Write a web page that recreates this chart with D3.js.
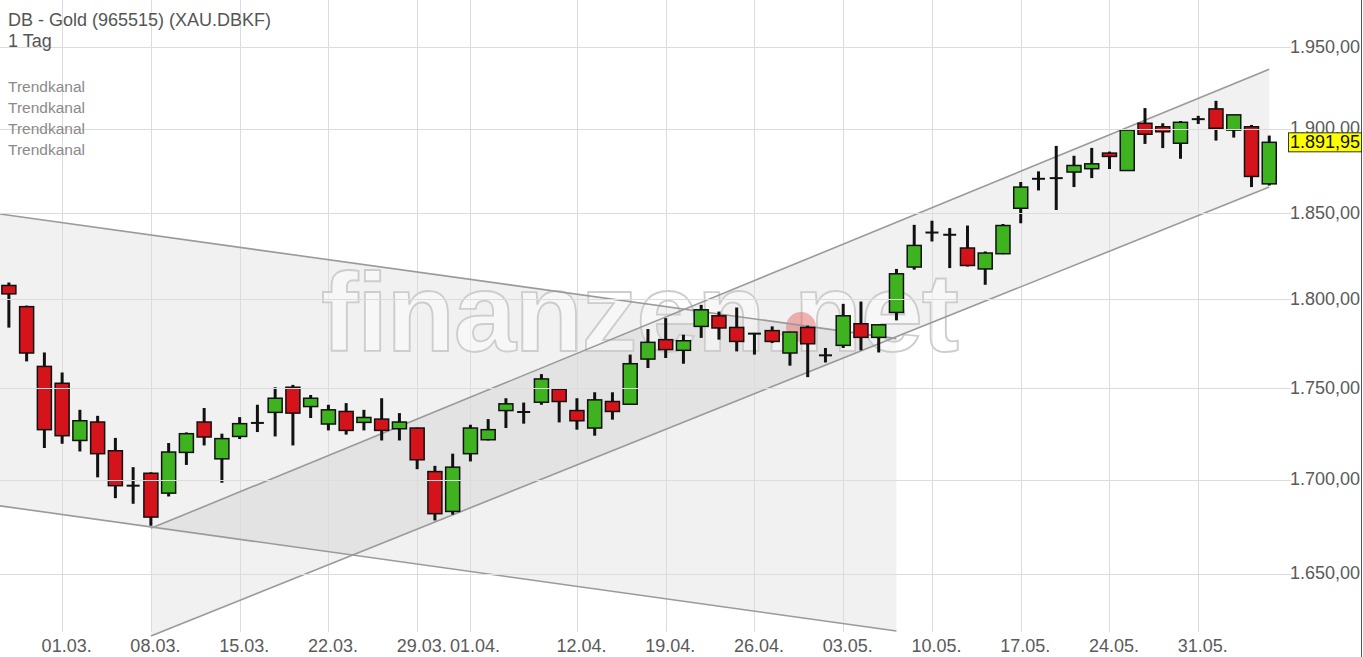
<!DOCTYPE html>
<html><head><meta charset="utf-8">
<script src="https://cdn.jsdelivr.net/npm/d3@7"></script>
<style>body{margin:0;background:#fff;} svg{display:block;font-family:"Liberation Sans",Arial,sans-serif;}</style>
</head><body><svg id="c" width="1363" height="657"></svg>
<script>
const dates = ["24.02.","25.02.","26.02.","01.03.","02.03.","03.03.","04.03.","05.03.","08.03.","09.03.","10.03.","11.03.","12.03.","15.03.","16.03.","17.03.","18.03.","19.03.","22.03.","23.03.","24.03.","25.03.","26.03.","29.03.","30.03.","31.03.","01.04.","05.04.","06.04.","07.04.","08.04.","09.04.","12.04.","13.04.","14.04.","15.04.","16.04.","19.04.","20.04.","21.04.","22.04.","23.04.","26.04.","27.04.","28.04.","29.04.","30.04.","03.05.","04.05.","05.05.","06.05.","07.05.","10.05.","11.05.","12.05.","13.05.","14.05.","17.05.","18.05.","19.05.","20.05.","21.05.","24.05.","25.05.","26.05.","27.05.","28.05.","31.05.","01.06.","02.06.","03.06.","04.06."];
const open  = [1808.0,1795.9,1762.2,1752.8,1721.3,1731.4,1715.7,1696.8,1703.5,1692.8,1714.8,1731.4,1711.3,1723.5,1730.9,1736.7,1750.6,1739.9,1730.3,1737.2,1731.2,1733.0,1727.7,1728.1,1704.4,1683.0,1714.1,1721.7,1737.7,1736.9,1742.3,1749.5,1737.7,1728.1,1742.7,1741.2,1766.3,1777.2,1771.2,1784.7,1790.7,1784.1,1780.6,1782.3,1769.7,1784.1,1768.4,1774.0,1786.2,1778.5,1792.6,1818.6,1838.6,1837.3,1829.6,1817.5,1826.3,1852.8,1870.2,1870.6,1874.2,1876.2,1885.5,1875.1,1903.4,1901.3,1891.4,1905.9,1912.1,1899.3,1901.3,1867.2];
const high  = [1809.7,1796.5,1770.0,1758.8,1738.1,1734.8,1722.7,1706.8,1704.0,1719.9,1725.7,1739.1,1725.0,1734.1,1740.9,1750.6,1751.9,1746.3,1740.9,1741.8,1738.1,1744.5,1736.3,1728.3,1707.5,1714.1,1729.9,1733.0,1744.5,1742.1,1757.9,1749.6,1744.5,1747.8,1747.8,1768.8,1783.2,1789.4,1780.0,1796.9,1793.1,1795.4,1781.0,1784.7,1781.6,1785.1,1772.5,1797.5,1798.8,1785.7,1817.5,1843.1,1845.5,1841.2,1842.7,1827.6,1843.6,1868.3,1874.6,1889.8,1883.9,1888.6,1886.4,1899.5,1912.6,1903.4,1904.8,1907.9,1917.0,1908.6,1902.4,1896.0];
const low   = [1784.0,1765.0,1717.2,1719.5,1715.3,1701.3,1690.1,1687.1,1675.4,1691.0,1708.0,1718.6,1698.4,1722.1,1725.9,1723.5,1718.6,1733.6,1726.8,1724.5,1726.8,1721.3,1721.3,1705.7,1678.2,1681.3,1709.9,1721.3,1728.1,1730.5,1740.9,1731.2,1727.2,1723.9,1732.7,1741.0,1761.3,1766.9,1763.7,1778.2,1777.2,1770.6,1768.8,1775.3,1762.6,1756.2,1764.4,1772.5,1771.2,1770.0,1788.1,1817.1,1833.4,1818.0,1818.9,1808.4,1826.0,1844.0,1863.3,1851.8,1865.3,1870.6,1876.0,1875.0,1891.0,1888.5,1882.1,1903.0,1893.0,1894.8,1865.3,1866.2];
const close = [1803.2,1769.7,1727.2,1723.9,1732.1,1714.1,1696.8,1696.8,1680.0,1715.0,1725.0,1723.2,1722.3,1730.5,1730.9,1744.5,1736.3,1744.5,1738.1,1726.8,1733.9,1726.8,1731.4,1710.8,1681.8,1706.8,1728.1,1727.2,1741.4,1736.9,1755.2,1742.7,1732.1,1743.6,1737.2,1763.7,1775.7,1771.6,1776.6,1794.1,1783.8,1776.2,1780.6,1776.2,1781.5,1774.9,1768.4,1790.7,1778.5,1785.6,1814.7,1831.1,1838.6,1837.3,1819.5,1826.7,1842.7,1865.3,1870.2,1870.6,1878.1,1879.1,1883.5,1899.3,1896.8,1898.3,1904.0,1905.9,1900.4,1908.5,1871.6,1891.95];
const xTickLabels = ["01.03.","08.03.","15.03.","22.03.","29.03.","01.04.","12.04.","19.04.","26.04.","03.05.","10.05.","17.05.","24.05.","31.05."];
const yTicks = [1650,1700,1750,1800,1850,1900,1950];
const lastPrice = 1891.95;
const titleLines = ["DB - Gold (965515) (XAU.DBKF)","1 Tag"];
const legendLabels = ["Trendkanal","Trendkanal","Trendkanal","Trendkanal"];
// trend channels: [index position, upper price, lower price]
const descIdx = [-0.5, 50], descUpper = [1849.4, 1777.8], descLower = [1686.0, 1620.4];
const ascIdx  = [8, 71],    ascUpper  = [1674.0, 1936.3], ascLower  = [1617.8, 1865.3];

const W = 1363, H = 657, plotR = 1287;
const svg = d3.select("#c");
const x = d3.scaleLinear().domain([-0.5, 72.0]).range([0, plotR]);
const y = d3.scaleLog().domain([1650, 1950]).range([573.9, 47]);
const loc = d3.formatLocale({decimal: ",", thousands: ".", grouping: [3], currency: ["", ""]});
const fmt = loc.format(",.2f");

svg.append("defs").append("clipPath").attr("id","clip").append("rect").attr("x",0).attr("y",0).attr("width",plotR).attr("height",H);
const plot = svg.append("g").attr("clip-path","url(#clip)");

// channel shading
function area(idx, up, lo) {
  return d3.area().x(d => x(d[0])).y0(d => y(d[1])).y1(d => y(d[2]))(idx.map((v,i)=>[v, lo[i], up[i]]));
}
plot.append("path").attr("d", area(descIdx, descUpper, descLower)).attr("fill","rgba(0,0,0,0.055)");
plot.append("path").attr("d", area(ascIdx, ascUpper, ascLower)).attr("fill","rgba(0,0,0,0.055)");

// grid
const tickIdx = xTickLabels.map(t => dates.indexOf(t));
plot.selectAll("line.vg").data(tickIdx).join("line")
  .attr("x1", d => Math.round(x(d))+0.5).attr("x2", d => Math.round(x(d))+0.5)
  .attr("y1", 0).attr("y2", 632).attr("stroke","#dcdcdc").attr("stroke-width",1);
svg.selectAll("line.hg").data(yTicks).join("line")
  .attr("x1", 0).attr("x2", 1291)
  .attr("y1", d => Math.round(y(d))+0.5).attr("y2", d => Math.round(y(d))+0.5)
  .attr("stroke","#dcdcdc").attr("stroke-width",1);

// watermark
plot.append("text").attr("x", 321).attr("y", 351).attr("textLength", 638).attr("lengthAdjust","spacing")
  .attr("font-size", 112).attr("font-weight","bold").attr("fill","rgba(255,255,255,0.45)").attr("stroke","#cdcdcd").attr("stroke-width",1.8)
  .text("finanzen.net");
plot.append("circle").attr("cx", 801).attr("cy", 327).attr("r", 15).attr("fill","rgba(232,90,90,0.45)");

// channel lines
const ln = d3.line().x(d => x(d[0])).y(d => y(d[1]));
[[descIdx, descUpper],[descIdx, descLower],[ascIdx, ascUpper],[ascIdx, ascLower]].forEach(([ix, p]) => {
  plot.append("path").attr("d", ln(ix.map((v,i)=>[v,p[i]]))).attr("fill","none").attr("stroke","#9a9a9a").attr("stroke-width",1.6);
});

// candles
const bw = 14;
const cg = plot.append("g");
dates.forEach((d, i) => {
  const cx = x(i), o = open[i], c = close[i];
  cg.append("line").attr("x1", cx).attr("x2", cx).attr("y1", y(high[i])).attr("y2", y(low[i]))
    .attr("stroke","#111").attr("stroke-width",3);
  if (Math.abs(o - c) < 0.3) {
    cg.append("line").attr("x1", cx - bw/2 + 0.5).attr("x2", cx + bw/2 - 0.5).attr("y1", y(c)).attr("y2", y(c))
      .attr("stroke","#111").attr("stroke-width",2);
  } else {
    const top = y(Math.max(o, c)), bot = y(Math.min(o, c));
    cg.append("rect").attr("x", cx - bw/2).attr("y", top).attr("width", bw).attr("height", Math.max(1, bot - top))
      .attr("fill", c >= o ? "#3eb31f" : "#d4131a").attr("stroke","#111").attr("stroke-width",1.5);
  }
});

// y axis
const gy = svg.append("g").attr("transform","translate(1360,0)")
  .call(d3.axisLeft(y).tickValues(yTicks).tickFormat(fmt).tickSize(0).tickPadding(0));
gy.select(".domain").remove();
gy.selectAll("text").attr("font-size",18).attr("fill","#5a5a5a").attr("font-family","Liberation Sans, Arial, sans-serif").attr("dy","0.28em");

// x axis
const gx = svg.append("g").attr("transform","translate(4,639)")
  .call(d3.axisBottom(x).tickValues(tickIdx).tickFormat(i => dates[i]).tickSize(0).tickPadding(0));
gx.select(".domain").remove();
gx.selectAll("text").attr("font-size",18).attr("fill","#5a5a5a").attr("font-family","Liberation Sans, Arial, sans-serif");

// right border
svg.append("line").attr("x1",1361.5).attr("x2",1361.5).attr("y1",0).attr("y2",H).attr("stroke","#555");

// last price box
const ly = y(lastPrice);
svg.append("rect").attr("x",1288.5).attr("y",ly-9.5).attr("width",73).attr("height",19).attr("fill","#ffff00").attr("stroke","#333");
svg.append("text").attr("x",1325).attr("y",ly+6).attr("text-anchor","middle").attr("font-size",18).attr("fill","#111").text(fmt(lastPrice));

// title & legend
svg.selectAll("text.title").data(titleLines).join("text").attr("class","title")
  .attr("x",8).attr("y",(d,i)=>26+i*21).attr("font-size",18).attr("fill","#555").text(d=>d);
svg.selectAll("text.leg").data(legendLabels).join("text").attr("class","leg")
  .attr("x",8).attr("y",(d,i)=>92+i*21).attr("font-size",15.5).attr("fill","#8a8a8a").text(d=>d);
</script></body></html>
